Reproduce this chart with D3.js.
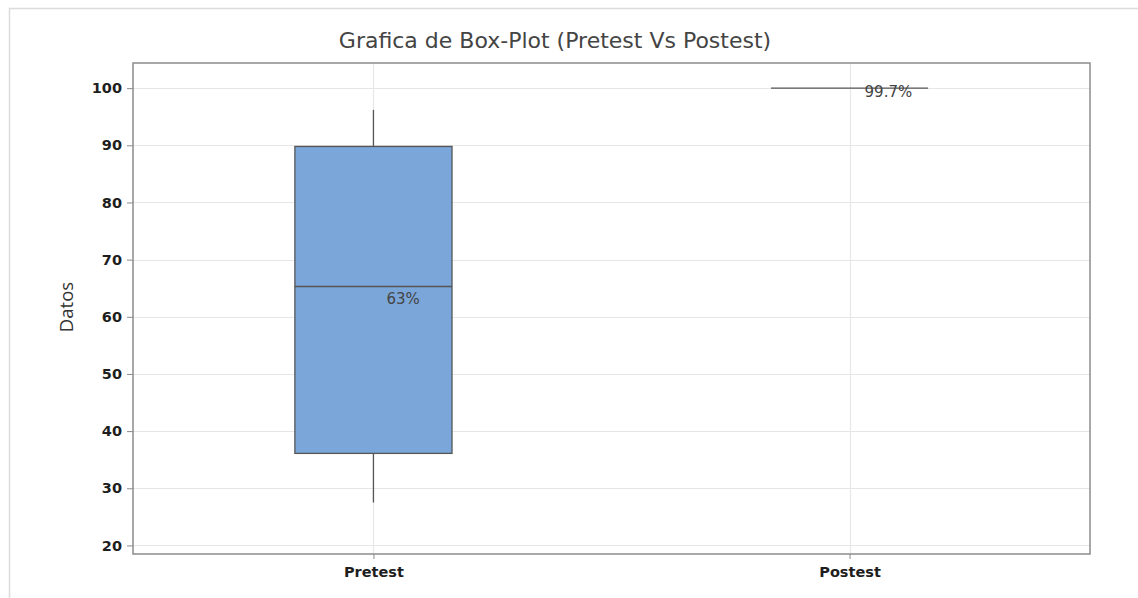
<!DOCTYPE html>
<html>
<head>
<meta charset="utf-8">
<script src="https://cdn.jsdelivr.net/npm/d3@7"></script>
<style>
  html, body { margin: 0; padding: 0; background: #ffffff; }
  svg { display: block; }
</style>
</head>
<body>
<svg id="chart" width="1138" height="598"></svg>
<script>
// Groups and their summary statistics (percent scores)
const categories = ["Pretest", "Postest"];
const q1Values = [36.1, 100];
const medianValues = [65.3, 100];
const q3Values = [89.8, 100];
const whiskerLow = [27.5, 100];
const whiskerHigh = [96.2, 100];
const meanLabels = ["63%", "99.7%"];
const yTicks = [20, 30, 40, 50, 60, 70, 80, 90, 100];

const svg = d3.select("#chart");
const W = 1138, H = 598;
const plot = { left: 133, top: 63, right: 1090, bottom: 554 };
const FONT = "'DejaVu Sans', Verdana, sans-serif";

// Outer panel border
svg.append("path")
  .attr("d", `M9.5,${H} V8.5 H${W}`)
  .attr("fill", "none")
  .attr("stroke", "#dcdcdc")
  .attr("stroke-width", 1.5);

const x = d3.scalePoint()
  .domain(categories)
  .range([plot.left, plot.right])
  .padding(0.505);

const y = d3.scaleLinear()
  .domain([18.5, 104.4])
  .range([plot.bottom, plot.top]);

// Gridlines
const grid = svg.append("g");
grid.selectAll("line.h").data(yTicks).join("line")
  .attr("class", "h")
  .attr("x1", plot.left).attr("x2", plot.right)
  .attr("y1", d => Math.round(y(d)) + 0.5).attr("y2", d => Math.round(y(d)) + 0.5)
  .attr("stroke", "#e6e6e6").attr("stroke-width", 1.2);
grid.selectAll("line.v").data(categories).join("line")
  .attr("class", "v")
  .attr("y1", plot.top).attr("y2", plot.bottom)
  .attr("x1", d => Math.round(x(d)) + 0.5).attr("x2", d => Math.round(x(d)) + 0.5)
  .attr("stroke", "#e6e6e6").attr("stroke-width", 1.2);

// Axes
const yAxis = d3.axisLeft(y).tickValues(yTicks).tickSize(6).tickPadding(5);
const gy = svg.append("g")
  .attr("transform", `translate(${plot.left},0)`)
  .call(yAxis);
gy.select(".domain").remove();
gy.selectAll(".tick line").attr("stroke", "#8a8a8a");
gy.selectAll(".tick text")
  .attr("font-family", FONT)
  .attr("font-size", 14.5)
  .attr("font-weight", "bold")
  .attr("fill", "#1e1e1e");

const xAxis = d3.axisBottom(x).tickSize(5).tickPadding(8);
const gx = svg.append("g")
  .attr("transform", `translate(0,${plot.bottom})`)
  .call(xAxis);
gx.select(".domain").remove();
gx.selectAll(".tick line").attr("stroke", "#8a8a8a");
gx.selectAll(".tick text")
  .attr("font-family", FONT)
  .attr("font-size", 14.5)
  .attr("font-weight", "bold")
  .attr("fill", "#1e1e1e");

// Plot frame
svg.append("rect")
  .attr("x", plot.left).attr("y", plot.top)
  .attr("width", plot.right - plot.left).attr("height", plot.bottom - plot.top)
  .attr("fill", "none")
  .attr("stroke", "#8c8c8c")
  .attr("stroke-width", 1.5);

// Boxes
const boxW = x.step() * 0.33;
const data = categories.map((c, i) => ({
  c, q1: q1Values[i], med: medianValues[i], q3: q3Values[i],
  lo: whiskerLow[i], hi: whiskerHigh[i], label: meanLabels[i]
}));

const g = svg.append("g");
data.forEach(d => {
  const cx = x(d.c);
  // whiskers
  g.append("line")
    .attr("x1", cx).attr("x2", cx)
    .attr("y1", y(d.hi)).attr("y2", y(d.q3))
    .attr("stroke", "#555").attr("stroke-width", 1.3);
  g.append("line")
    .attr("x1", cx).attr("x2", cx)
    .attr("y1", y(d.q1)).attr("y2", y(d.lo))
    .attr("stroke", "#555").attr("stroke-width", 1.3);
  // box
  const h = y(d.q1) - y(d.q3);
  if (h > 0.5) {
    g.append("rect")
      .attr("x", cx - boxW / 2).attr("y", y(d.q3))
      .attr("width", boxW).attr("height", h)
      .attr("fill", "#7ba6d9")
      .attr("stroke", "#555").attr("stroke-width", 1.3);
  }
  // median
  g.append("line")
    .attr("x1", cx - boxW / 2).attr("x2", cx + boxW / 2)
    .attr("y1", y(d.med)).attr("y2", y(d.med))
    .attr("stroke", "#555").attr("stroke-width", 1.3);
});

// Value labels
svg.append("text")
  .attr("x", x("Pretest") + 13).attr("y", y(medianValues[0]) + 18)
  .attr("font-family", FONT)
  .attr("font-size", 15).attr("fill", "#444")
  .text(meanLabels[0]);
svg.append("text")
  .attr("x", x("Postest") + 15).attr("y", y(medianValues[1]) + 9)
  .attr("font-family", FONT)
  .attr("font-size", 15).attr("fill", "#444")
  .text(meanLabels[1]);

// Title
svg.append("text")
  .attr("x", 555).attr("y", 48)
  .attr("text-anchor", "middle")
  .attr("font-family", FONT)
  .attr("font-size", 22)
  .attr("fill", "#444")
  .text("Grafica de Box-Plot (Pretest Vs Postest)");

// Y-axis label
svg.append("text")
  .attr("transform", `translate(73,307) rotate(-90)`)
  .attr("text-anchor", "middle")
  .attr("font-family", "'Open Sans', 'Noto Sans', sans-serif")
  .attr("font-size", 18.5)
  .attr("fill", "#333")
  .text("Datos");
</script>
</body>
</html>
